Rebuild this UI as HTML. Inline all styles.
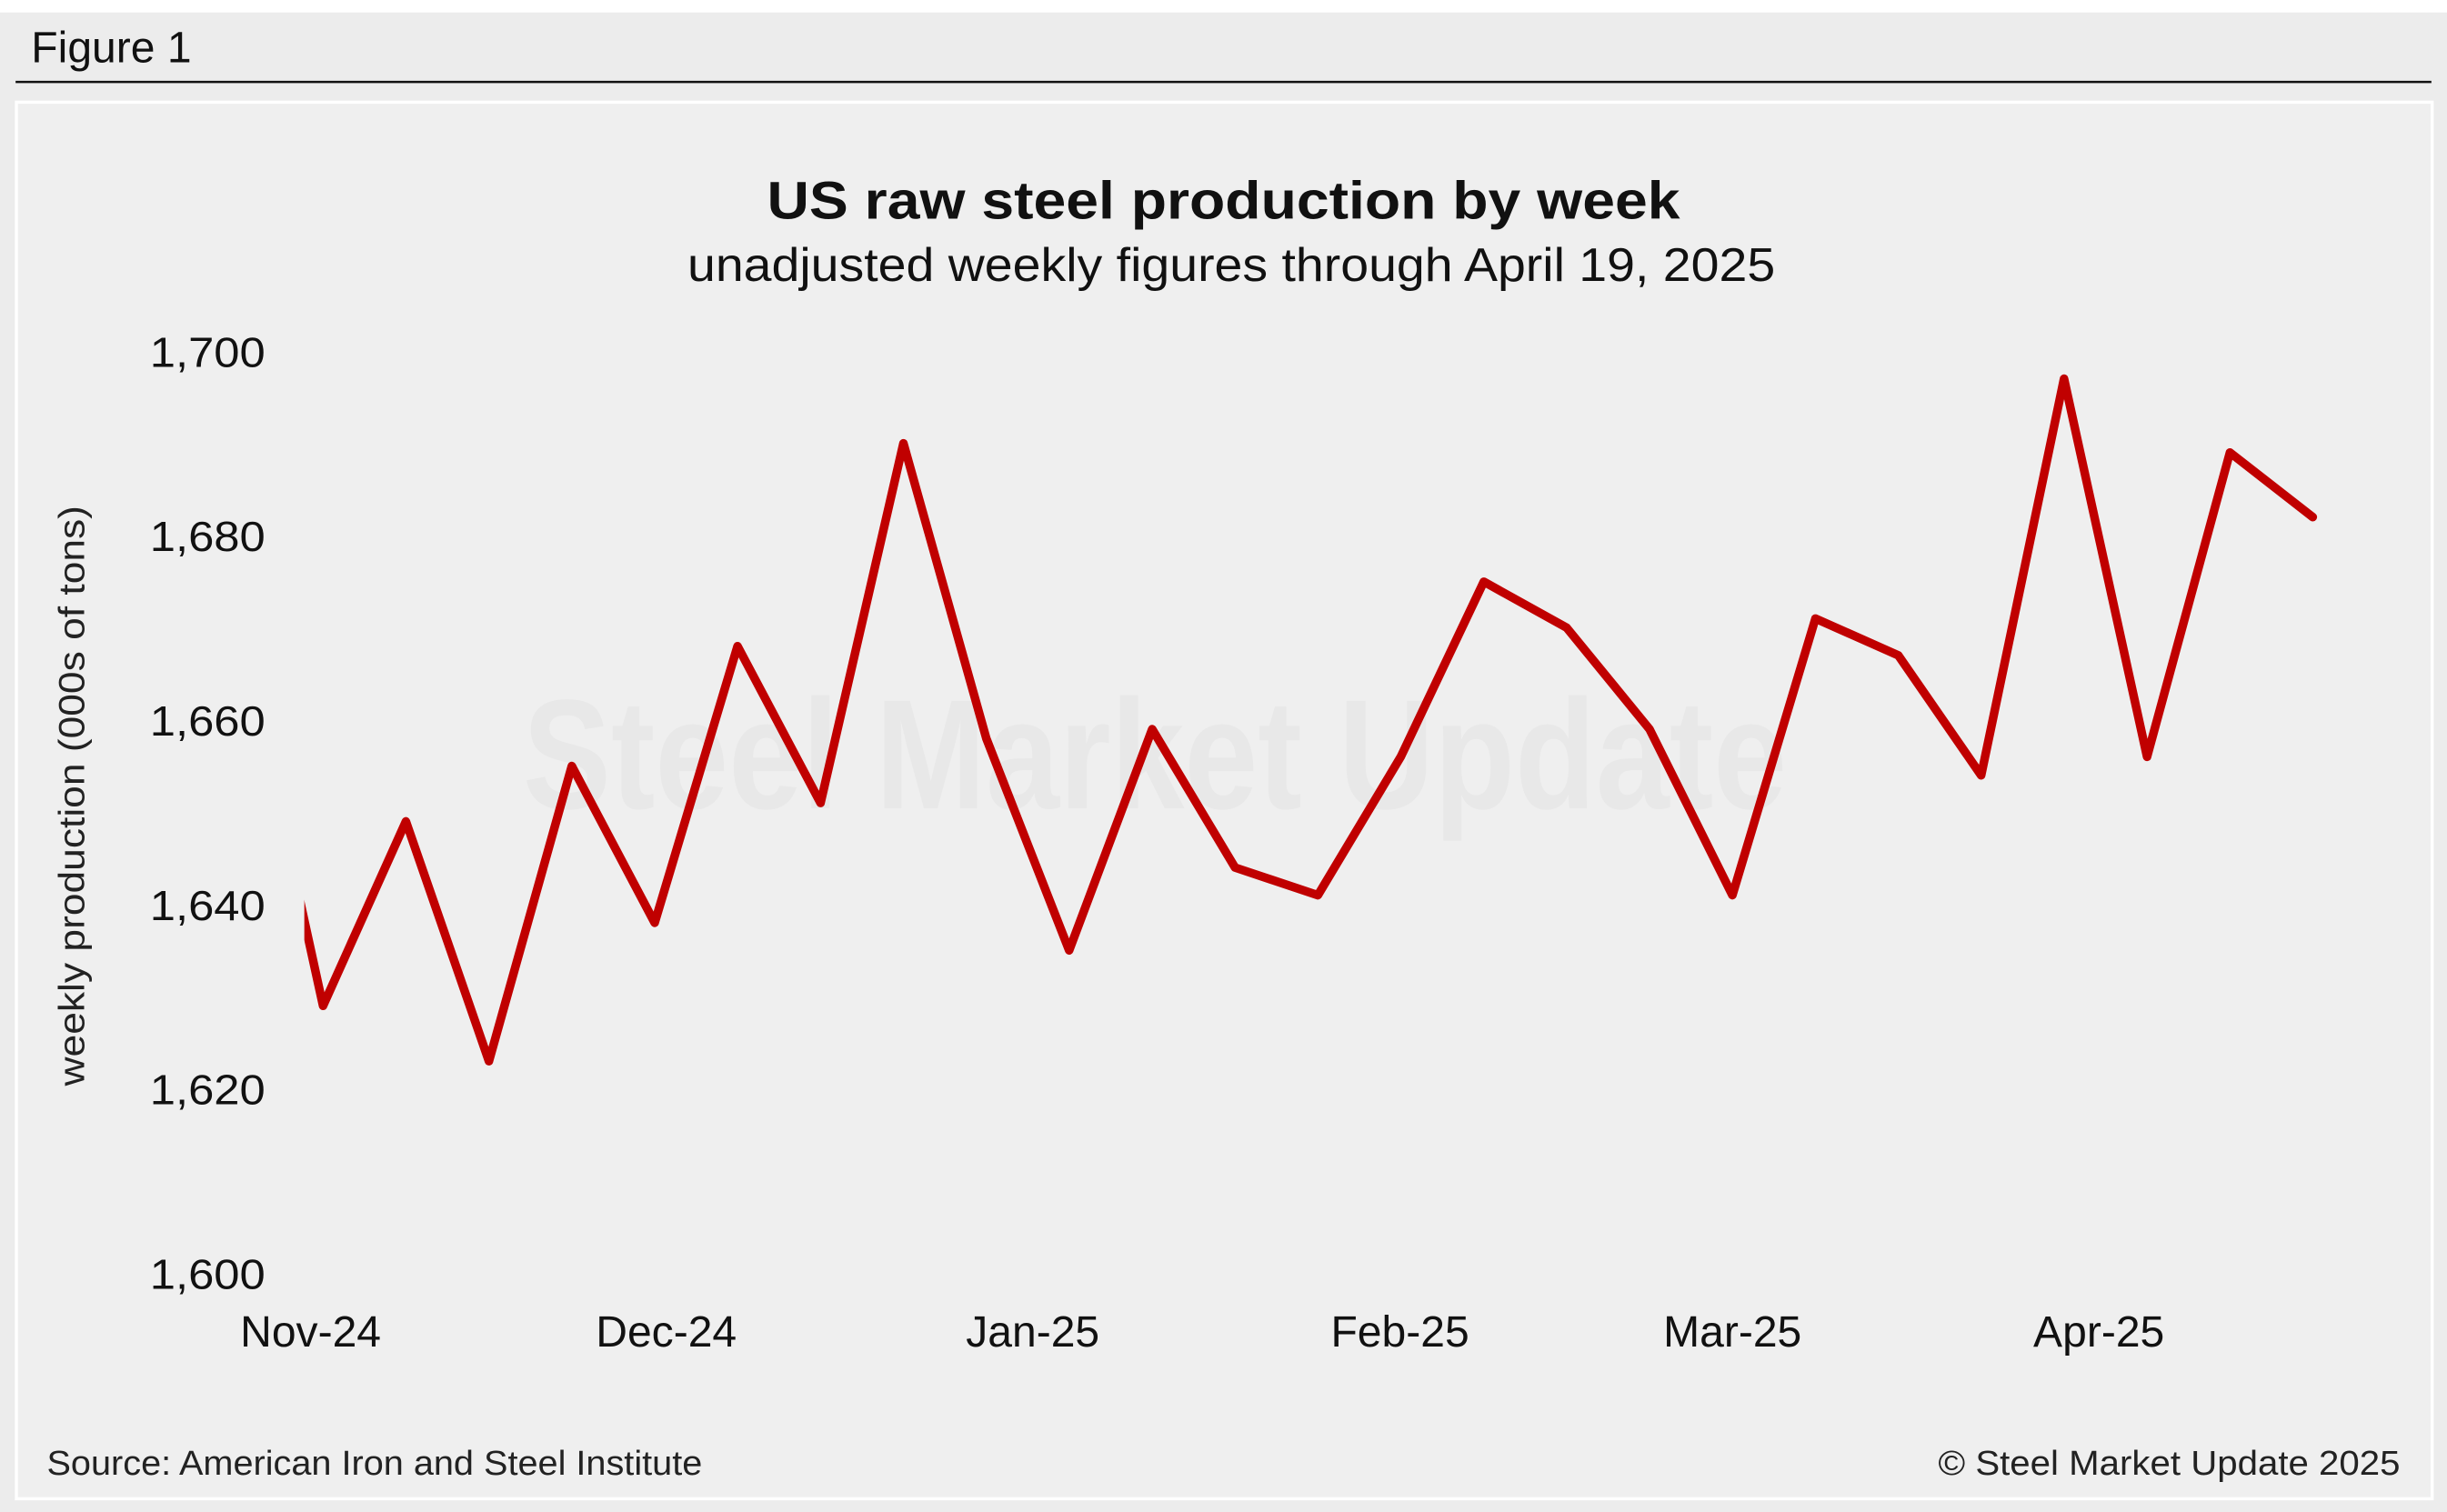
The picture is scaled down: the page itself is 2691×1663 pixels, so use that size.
<!DOCTYPE html>
<html><head><meta charset="utf-8"><style>
html,body{margin:0;padding:0;background:#fff;}
svg{display:block;font-family:"Liberation Sans",Arial,sans-serif;}
</style></head><body>
<svg id="chart" width="2691" height="1663" viewBox="0 0 1568 969" preserveAspectRatio="none">
<rect x="0" y="8" width="1568" height="961" fill="#ececec"/>
<text x="20" y="40" font-size="28" fill="#111">Figure 1</text>
<line x1="10" y1="52.5" x2="1558" y2="52.5" stroke="#111" stroke-width="1.5"/>
<rect x="10.5" y="65.5" width="1548" height="895" fill="#efefef" stroke="#fff" stroke-width="2"/>
<text x="740" y="518" text-anchor="middle" font-size="100" font-weight="bold" fill="#e8e8e8" textLength="810" lengthAdjust="spacingAndGlyphs">Steel Market Update</text>
<text x="784" y="140" text-anchor="middle" font-size="34" font-weight="bold" fill="#111" textLength="585" lengthAdjust="spacingAndGlyphs">US raw steel production by week</text>
<text x="789" y="180" text-anchor="middle" font-size="30" fill="#111" textLength="697" lengthAdjust="spacingAndGlyphs">unadjusted weekly figures through April 19, 2025</text>
<text transform="translate(54,510) rotate(-90)" text-anchor="middle" font-size="23" fill="#222" textLength="372" lengthAdjust="spacingAndGlyphs">weekly production (000s of tons)</text>
<g id="yticks"></g><g id="xticks"></g>
<defs><clipPath id="plotclip"><rect x="195" y="150" width="1330" height="700"/></clipPath></defs>
<g clip-path="url(#plotclip)"><path id="series" fill="none" stroke="#c00000" stroke-width="5.5" stroke-linejoin="round" stroke-linecap="round"/></g>
<text x="30" y="945" font-size="22" fill="#222" textLength="420" lengthAdjust="spacingAndGlyphs">Source: American Iron and Steel Institute</text>
<text x="1538" y="945" text-anchor="end" font-size="22" fill="#222" textLength="296" lengthAdjust="spacingAndGlyphs">© Steel Market Update 2025</text>
</svg>
<script>
const yTickValues = [1600, 1620, 1640, 1660, 1680, 1700];
const yTickLabels = ["1,600", "1,620", "1,640", "1,660", "1,680", "1,700"];
const xTickLabels = ["Nov-24", "Dec-24", "Jan-25", "Feb-25", "Mar-25", "Apr-25"];
const xTickWeeks = [-0.15, 4.14, 8.56, 12.99, 17.0, 21.42];
const weeks = [-1,0,1,2,3,4,5,6,7,8,9,10,11,12,13,14,15,16,17,18,19,20,21,22,23,24];
const production = [1670,1629,1649,1623,1655,1638,1668,1651,1690,1658,1635,1659,1644,1641,1656,1675,1670,1659,1641,1671,1667,1654,1697,1656,1689,1682];

const NS = "http://www.w3.org/2000/svg";
function xScale(w){ return 207 + w * 53.125; }
function yScale(v){ return 816 - (v - 1600) * (591 / 100); }

const yg = document.getElementById('yticks');
yTickValues.forEach((v, i) => {
  const t = document.createElementNS(NS, 'text');
  t.setAttribute('x', 170); t.setAttribute('y', yScale(v) + 10);
  t.setAttribute('text-anchor', 'end'); t.setAttribute('font-size', '27'); t.setAttribute('fill', '#111');
  t.setAttribute('textLength', '74'); t.setAttribute('lengthAdjust', 'spacingAndGlyphs');
  
  
  t.textContent = yTickLabels[i];
  yg.appendChild(t);
});
const xg = document.getElementById('xticks');
xTickLabels.forEach((lab, i) => {
  const t = document.createElementNS(NS, 'text');
  t.setAttribute('x', xScale(xTickWeeks[i])); t.setAttribute('y', 863);
  t.setAttribute('text-anchor', 'middle'); t.setAttribute('font-size', '28'); t.setAttribute('fill', '#111');
  
  
  t.textContent = lab;
  xg.appendChild(t);
});
let d = '';
weeks.forEach((w, i) => { d += (i ? 'L' : 'M') + xScale(w).toFixed(1) + ',' + yScale(production[i]).toFixed(1); });
document.getElementById('series').setAttribute('d', d);
</script>
</body></html>
